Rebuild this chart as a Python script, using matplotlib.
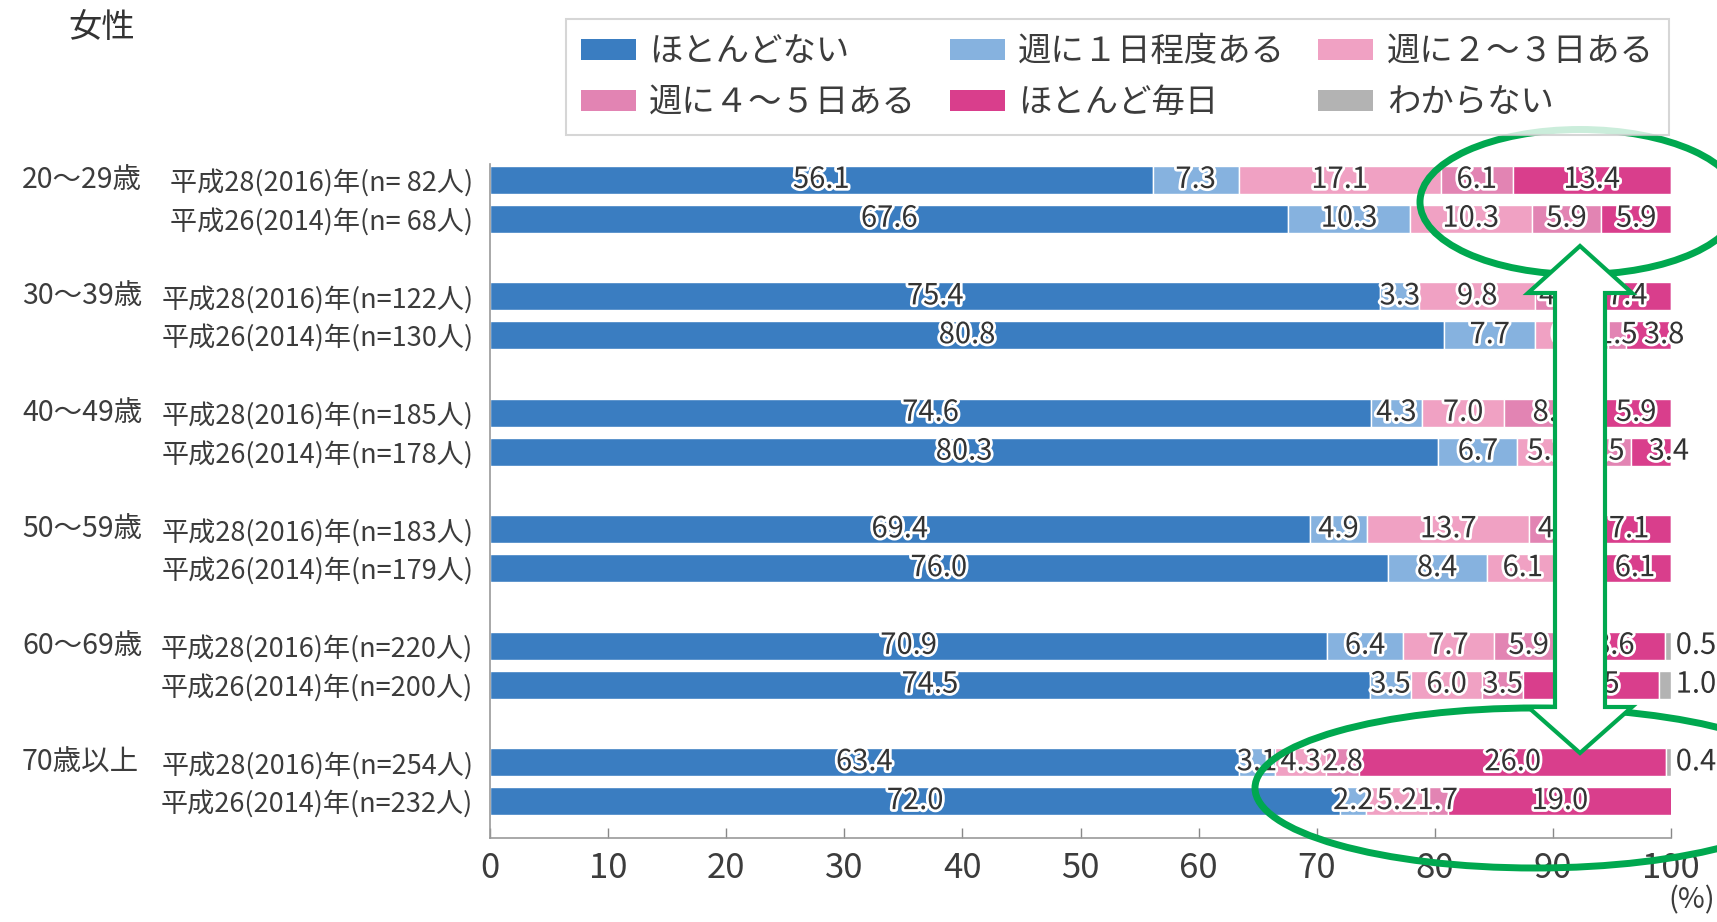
import matplotlib
matplotlib.use("Agg")
import matplotlib.pyplot as plt
import matplotlib.patheffects as pe
from matplotlib.patches import Patch, Ellipse, Polygon
from matplotlib.transforms import blended_transform_factory
import numpy as np

plt.rcParams['font.family'] = ['Noto Sans CJK JP', 'DejaVu Sans']

# data
groups = ['20～29歳', '30～39歳', '40～49歳', '50～59歳', '60～69歳', '70歳以上']
row_labels = ['平成28(2016)年(n= 82人)', '平成26(2014)年(n= 68人)',
              '平成28(2016)年(n=122人)', '平成26(2014)年(n=130人)',
              '平成28(2016)年(n=185人)', '平成26(2014)年(n=178人)',
              '平成28(2016)年(n=183人)', '平成26(2014)年(n=179人)',
              '平成28(2016)年(n=220人)', '平成26(2014)年(n=200人)',
              '平成28(2016)年(n=254人)', '平成26(2014)年(n=232人)']
categories = ['ほとんどない', '週に１日程度ある', '週に２～３日ある',
              '週に４～５日ある', 'ほとんど毎日', 'わからない']
hotondo_nai = [56.1, 67.6, 75.4, 80.8, 74.6, 80.3, 69.4, 76.0, 70.9, 74.5, 63.4, 72.0]
shu_1 = [7.3, 10.3, 3.3, 7.7, 4.3, 6.7, 4.9, 8.4, 6.4, 3.5, 3.1, 2.2]
shu_2_3 = [17.1, 10.3, 9.8, 6.2, 7.0, 5.1, 13.7, 6.1, 7.7, 6.0, 4.3, 5.2]
shu_4_5 = [6.1, 5.9, 4.1, 1.5, 8.2, 4.5, 4.9, 3.4, 5.9, 3.5, 2.8, 1.7]
mainichi = [13.4, 5.9, 7.4, 3.8, 5.9, 3.4, 7.1, 6.1, 8.6, 11.5, 26.0, 19.0]
wakaranai = [0, 0, 0, 0, 0, 0, 0, 0, 0.5, 1.0, 0.4, 0]

colors = ['#3a7dc1', '#86b2df', '#f0a1c3', '#e284b3', '#d93e8c', '#b3b3b3']

W, H = 1717, 922
fig = plt.figure(figsize=(W / 100, H / 100), dpi=100)
ax = fig.add_axes([490 / W, 1 - 838 / H, 1181 / W, 674 / H])

ypos = [3 * (i // 2) + (i % 2) for i in range(len(row_labels))]
series = [hotondo_nai, shu_1, shu_2_3, shu_4_5, mainichi, wakaranai]
txt_fx = [pe.withStroke(linewidth=4, foreground='white')]

left = np.zeros(len(ypos))
for vals, col, name in zip(series, colors, categories):
    vals = np.array(vals)
    ax.barh(ypos, vals, left=left, height=0.72, color=col,
            edgecolor='white', linewidth=1, label=name)
    for y, l, v in zip(ypos, left, vals):
        if v <= 0:
            continue
        if name == 'わからない':
            ax.text(100.4, y, f'{v:.1f}', ha='left', va='center',
                    fontsize=21, color='#333333', path_effects=txt_fx, clip_on=False)
        elif name == 'ほとんど毎日' and v < 4:
            # narrow last segment: label pushed to the right like the original
            ax.text(l + 1.5, y, f'{v:.1f}', ha='left', va='center',
                    fontsize=21, color='#333333', path_effects=txt_fx, clip_on=False)
        else:
            ax.text(l + v / 2, y, f'{v:.1f}', ha='center', va='center',
                    fontsize=21, color='#333333', path_effects=txt_fx)
    left += vals

ax.set_xlim(0, 100)
ax.set_ylim(16.95, -0.41)
ax.set_xticks(range(0, 101, 10))
ax.set_yticks(ypos)
ax.set_yticklabels(row_labels, fontsize=19.5, color='#3c3c3c')
ax.tick_params(axis='y', length=0, pad=12)
ax.tick_params(axis='x', direction='in', length=7, width=1, color='#888888',
               labelsize=25, labelcolor='#3c3c3c', pad=9)
for s in ['top', 'right']:
    ax.spines[s].set_visible(False)
for s in ['left', 'bottom']:
    ax.spines[s].set_color('#999999')
    ax.spines[s].set_linewidth(1.2)

# group labels
tr = blended_transform_factory(fig.transFigure, ax.transData)
for i, g in enumerate(groups):
    ax.text(22 / W, 3 * i, g, transform=tr, ha='left', va='center',
            fontsize=20.5, color='#3c3c3c')

fig.text(1692 / W, 1 - 900 / H, '(%)', ha='center', va='center',
         fontsize=21, color='#3c3c3c')
fig.text(68 / W, 1 - 28 / H, '女性', ha='left', va='center',
         fontsize=24, color='#333333')

# legend, filled row by row
handles = [Patch(facecolor=c, edgecolor='none') for c in colors]
order = [0, 3, 1, 4, 2, 5]
leg = fig.legend([handles[i] for i in order], [categories[i] for i in order],
                 ncol=3, loc='upper left', bbox_to_anchor=(566 / W, 1 - 19 / H),
                 fontsize=24, frameon=True, fancybox=False, handlelength=1.65,
                 handleheight=0.6, handletextpad=0.4, columnspacing=1.0,
                 labelspacing=0.48, borderpad=0.45, borderaxespad=0)
leg.get_frame().set_edgecolor('#cccccc')
leg.get_frame().set_linewidth(1.5)
for t in leg.get_texts():
    t.set_color('#3c3c3c')


# green highlight marks
def px(x, y):
    return (x / W, 1 - y / H)


green = '#00a84f'
fig.patches.append(Ellipse(px(1580, 202), 320 / W, 145 / H, transform=fig.transFigure,
                           fill=False, edgecolor=green, linewidth=5, zorder=5))
fig.patches.append(Ellipse(px(1535, 788), 560 / W, 160 / H, transform=fig.transFigure,
                           fill=False, edgecolor=green, linewidth=5, zorder=5))
cx = 1580
arrow = [px(cx, 246), px(cx + 52, 293), px(cx + 25, 293), px(cx + 25, 707),
         px(cx + 52, 707), px(cx, 753), px(cx - 52, 707), px(cx - 25, 707),
         px(cx - 25, 293), px(cx - 52, 293)]
fig.patches.append(Polygon(arrow, closed=True, transform=fig.transFigure,
                           facecolor='white', edgecolor=green, linewidth=3, zorder=6))

fig.savefig('out.png', dpi=100)
